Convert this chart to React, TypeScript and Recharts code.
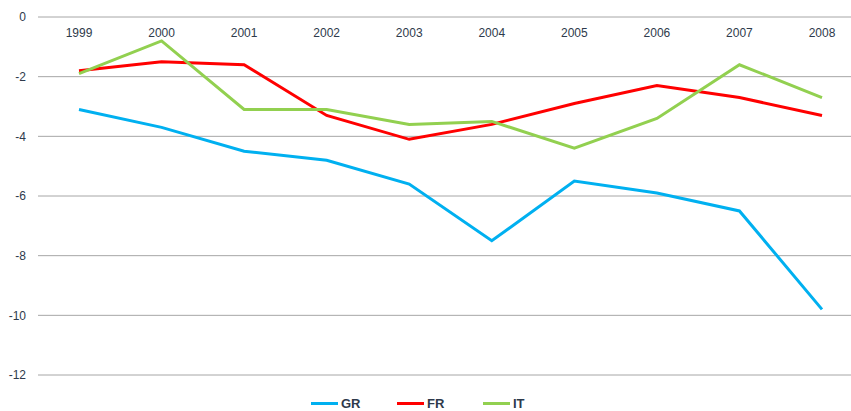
import React from 'react';
import { LineChart, Line, XAxis, YAxis, CartesianGrid, Legend } from 'recharts';

const years = ['1999', '2000', '2001', '2002', '2003', '2004', '2005', '2006', '2007', '2008'];
const grValues = [-3.1, -3.7, -4.5, -4.8, -5.6, -7.5, -5.5, -5.9, -6.5, -9.8];
const frValues = [-1.8, -1.5, -1.6, -3.3, -4.1, -3.6, -2.9, -2.3, -2.7, -3.3];
const itValues = [-1.9, -0.8, -3.1, -3.1, -3.6, -3.5, -4.4, -3.4, -1.6, -2.7];
const yTicks = [0, -2, -4, -6, -8, -10, -12];

const seriesList = [
  { key: 'GR', color: '#00B0F0' },
  { key: 'FR', color: '#FF0000' },
  { key: 'IT', color: '#92D050' },
];

const data = years.map((y, i) => ({ year: y, GR: grValues[i], FR: frValues[i], IT: itValues[i] }));

const FONT = '"Liberation Sans", Arial, sans-serif';
const TEXT_COLOR = '#2E3A4B';

const XTick = (props: any) => {
  const { x, y, payload } = props;
  return (
    <text x={x} y={y + 20} textAnchor="middle" fontFamily={FONT} fontSize={12} fill={TEXT_COLOR}>
      {payload.value}
    </text>
  );
};

const LegendContent = () => (
  <div style={{ height: 36, width: 851, display: 'flex', alignItems: 'flex-end', paddingLeft: 311, boxSizing: 'border-box' }}>
    {seriesList.map((s) => (
      <div key={s.key} style={{ width: 86, display: 'flex', alignItems: 'center', height: 16 }}>
        <div style={{ width: 27, height: 3, background: s.color, marginRight: 3 }} />
        <span style={{ fontFamily: FONT, fontWeight: 'bold', fontSize: 13, color: TEXT_COLOR }}>{s.key}</span>
      </div>
    ))}
  </div>
);

export default function App() {
  return (
    <div style={{ position: 'absolute', left: 0, top: 0, width: 851, height: 411, overflow: 'hidden', background: '#fff' }}>
      <LineChart width={880} height={411} data={data} margin={{ top: 16, right: 17, left: 0, bottom: 0 }}>
        <CartesianGrid vertical={false} stroke="#A6A6A6" />
        <XAxis
          dataKey="year"
          orientation="top"
          height={1}
          padding={{ left: 41, right: 41 }}
          axisLine={false}
          tickLine={false}
          tickSize={0}
          tickMargin={0}
          tick={<XTick />}
          interval={0}
        />
        <YAxis
          domain={[-12, 0]}
          ticks={yTicks}
          width={38}
          axisLine={false}
          tickLine={false}
          tickSize={0}
          tickMargin={12}
          tick={{ fontFamily: FONT, fontSize: 12, fill: TEXT_COLOR }}
        />
        <Legend verticalAlign="bottom" content={<LegendContent />} wrapperStyle={{ left: 0, width: 851 }} />
        {seriesList.map((s) => (
          <Line
            key={s.key}
            type="linear"
            dataKey={s.key}
            stroke={s.color}
            strokeWidth={3}
            dot={false}
            activeDot={false}
            isAnimationActive={false}
          />
        ))}
      </LineChart>
    </div>
  );
}
